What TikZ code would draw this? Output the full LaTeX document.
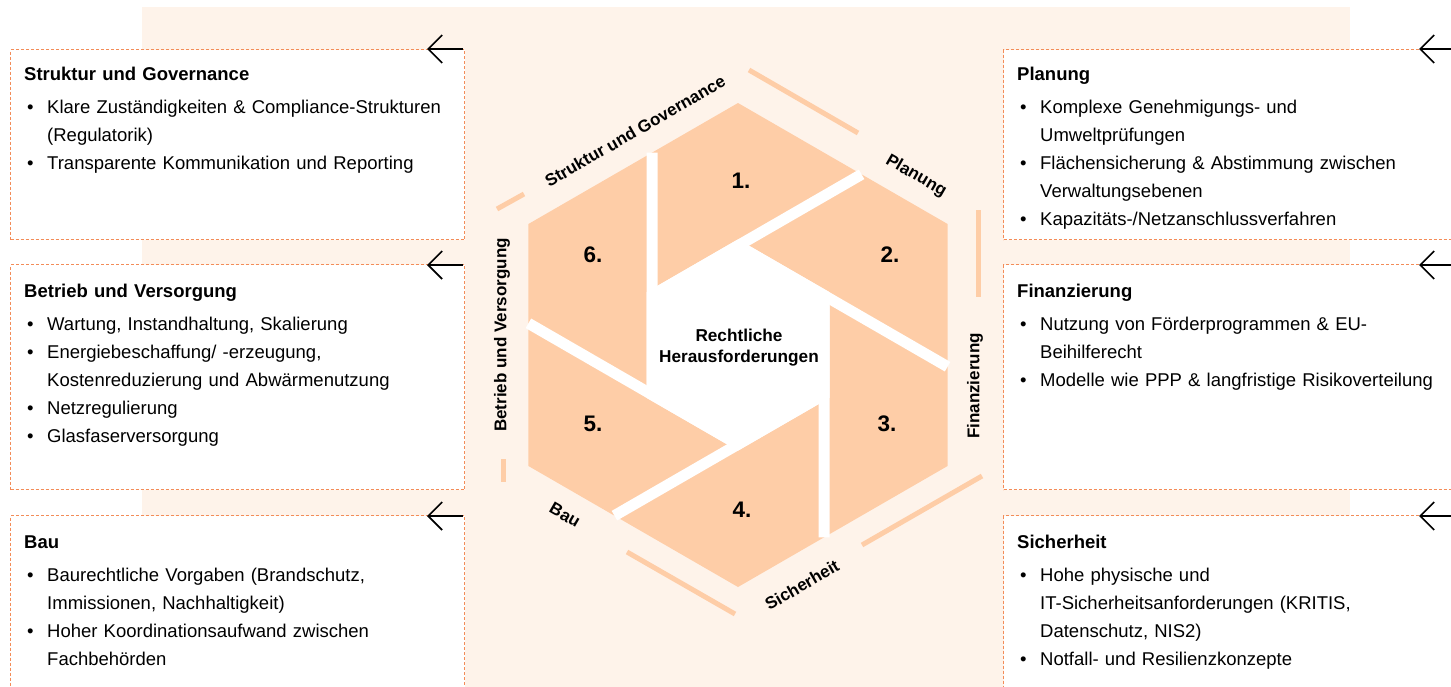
\documentclass[tikz,border=0pt]{standalone}
\usepackage{fontspec}
\setmainfont{Liberation Sans}
\usetikzlibrary{arrows.meta}
\definecolor{bgpeach}{RGB}{254,243,234}
\definecolor{piece}{RGB}{254,205,167}
\definecolor{dashor}{RGB}{243,140,88}
\newcommand{\bitem}[1]{\par\hangindent=23pt\hangafter=1\noindent\makebox[23pt][l]{\hspace{3pt}\textbullet}#1\par}
\tikzset{
  cbox/.style={draw=dashor, line width=1.1pt, dash pattern=on 3pt off 2pt, fill=white, anchor=north west, inner sep=0pt},
  btext/.style={anchor=north west, inner sep=0pt, text width=430pt, align=left, font=\fontsize{18.5}{28}\selectfont},
  barrow/.style={-{Straight Barb[length=14pt,width=28pt]}, line width=1.7pt, black},
  hlabel/.style={font=\fontsize{17}{20}\selectfont\bfseries, inner sep=0pt},
  numlab/.style={font=\fontsize{22.5}{26}\selectfont\bfseries, inner sep=0pt},
  accent/.style={piece, line width=5pt}
}
\begin{document}
\begin{tikzpicture}[x=1pt,y=-1pt]
\useasboundingbox (0,0) rectangle (1451,686);
\fill[bgpeach] (142,7) rectangle (1350,690);

% boxes
\node[cbox, minimum width=454pt, minimum height=190pt] (L1) at (10,49) {};
\node[cbox, minimum width=454pt, minimum height=225pt] (L2) at (10,264) {};
\node[cbox, minimum width=454pt, minimum height=190pt] (L3) at (10,515) {};
\node[cbox, minimum width=470pt, minimum height=190pt] (R1) at (1003,49) {};
\node[cbox, minimum width=470pt, minimum height=225pt] (R2) at (1003,264) {};
\node[cbox, minimum width=470pt, minimum height=190pt] (R3) at (1003,515) {};

% box texts
\node[btext] (tL1) at (24,60.4) {\strut\textbf{Struktur und Governance}\par\vspace{5pt}
\bitem{Klare Zuständigkeiten \& Compliance-Strukturen\newline(Regulatorik)}
\bitem{Transparente Kommunikation und Reporting}};
\node[btext] (tL2) at (24,277.4) {\strut\textbf{Betrieb und Versorgung}\par\vspace{5pt}
\bitem{Wartung, Instandhaltung, Skalierung}
\bitem{Energiebeschaffung/ -erzeugung,\newline Kostenreduzierung und Abwärmenutzung}
\bitem{Netzregulierung}
\bitem{Glasfaserversorgung}};
\node[btext] (tL3) at (24,528.4) {\strut\textbf{Bau}\par\vspace{5pt}
\bitem{Baurechtliche Vorgaben (Brandschutz,\newline Immissionen, Nachhaltigkeit)}
\bitem{Hoher Koordinationsaufwand zwischen\newline Fachbehörden}};
\node[btext] (tR1) at (1017,60.4) {\strut\textbf{Planung}\par\vspace{5pt}
\bitem{Komplexe Genehmigungs- und\newline Umweltprüfungen}
\bitem{Flächensicherung \& Abstimmung zwischen\newline Verwaltungsebenen}
\bitem{Kapazitäts-/Netzanschlussverfahren}};
\node[btext] (tR2) at (1017,277.4) {\strut\textbf{Finanzierung}\par\vspace{5pt}
\bitem{Nutzung von Förderprogrammen \& EU-\newline Beihilferecht}
\bitem{Modelle wie PPP \& langfristige Risikoverteilung}};
\node[btext] (tR3) at (1017,528.4) {\strut\textbf{Sicherheit}\par\vspace{5pt}
\bitem{Hohe physische und\newline IT-Sicherheitsanforderungen (KRITIS,\newline Datenschutz, NIS2)}
\bitem{Notfall- und Resilienzkonzepte}};

% arrows
\coordinate (aL1) at (463,49);  \coordinate (aL1t) at (427,49);
\coordinate (aL2) at (463,265); \coordinate (aL2t) at (427,265);
\coordinate (aL3) at (463,516); \coordinate (aL3t) at (427,516);
\coordinate (aR1) at (1453,49);  \coordinate (aR1t) at (1419,49);
\coordinate (aR2) at (1453,265); \coordinate (aR2t) at (1419,265);
\coordinate (aR3) at (1453,516); \coordinate (aR3t) at (1419,516);
\foreach \n in {L1,L2,L3,R1,R2,R3}{\draw[barrow] (a\n) -- (a\n t);}

% accent segments
\draw[accent] (749,70) -- (858,133);
\draw[accent] (497,209) -- (524,194);
\draw[accent] (503,459) -- (503,482);
\draw[accent] (978,210) -- (978,297);
\draw[accent] (862,545) -- (982,476);
\draw[accent] (627,552) -- (735,614);

% aperture hexagon
\begin{scope}[shift={(738,345)}, yscale=-1]
  \foreach \k in {0,...,5}{
    \begin{scope}[rotate=-60*\k]
      \fill[piece] (-86,192.35) -- (0,242) -- (123.57,170.65) -- (-86,49.65) -- cycle;
    \end{scope}}
  \fill[white] (90:105.65) -- (30:105.65) -- (-30:105.65) -- (-90:105.65) -- (-150:105.65) -- (150:105.65) -- cycle;
  \foreach \k in {0,...,5}{
    \begin{scope}[rotate=-60*\k]
      \draw[white, line width=11pt] (-86,49.65) -- (123.57,170.65);
    \end{scope}}
\end{scope}

% numbers
\node[numlab] (n1) at (741,181) {1.};
\node[numlab] (n2) at (890,255) {2.};
\node[numlab] (n3) at (887,424) {3.};
\node[numlab] (n4) at (742,510) {4.};
\node[numlab] (n5) at (593,424) {5.};
\node[numlab] (n6) at (593,255) {6.};

% centre
\node[font=\fontsize{17.2}{21}\selectfont\bfseries, align=center, inner sep=0pt] (ctr) at (739,348) {Rechtliche\\Herausforderungen};

% hex labels
\node[hlabel, rotate=30] (hSG) at (635,131) {Struktur und Governance};
\node[hlabel, rotate=-30] (hPL) at (916,176) {Planung};
\node[hlabel, rotate=90] (hFI) at (975,386) {Finanzierung};
\node[hlabel, rotate=90] (hBV) at (502,335) {Betrieb und Versorgung};
\node[hlabel, rotate=-30] (hBA) at (565,515) {Bau};
\node[hlabel, rotate=30] (hSI) at (802,585) {Sicherheit};
\end{tikzpicture}
\end{document}
